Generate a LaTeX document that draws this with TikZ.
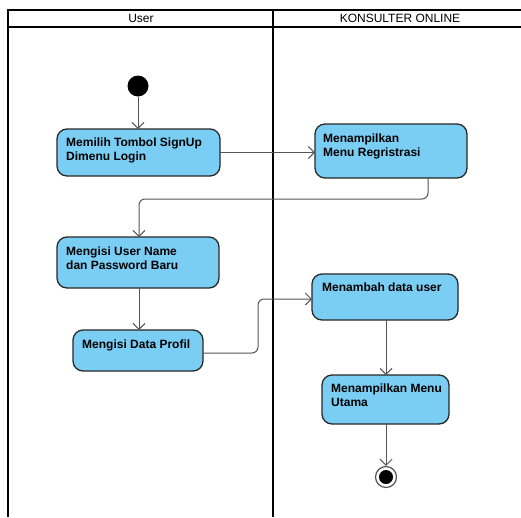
\documentclass[tikz,border=0pt]{standalone}
\usepackage{fontspec}
\setmainfont{Liberation Sans}
\usetikzlibrary{arrows.meta}
\definecolor{actfill}{RGB}{122,206,244}
\definecolor{actline}{RGB}{40,40,40}
\definecolor{flowline}{RGB}{85,85,85}
\tikzset{
  activity/.style={draw=actline, line width=1.3pt, fill=actfill, rounded corners=10pt},
  acttext/.style={anchor=north west, inner sep=0pt, align=left,
    font=\fontsize{12}{14}\selectfont\bfseries},
  flow/.style={draw=flowline, line width=1pt, rounded corners=6pt,
    -{Straight Barb[length=6pt,width=12pt,line width=1pt]}},
  lane/.style={draw=black, line width=2pt},
  lanetitle/.style={font=\fontsize{12}{14}\selectfont, inner sep=0pt}
}
\begin{document}
\begin{tikzpicture}[x=1pt,y=-1pt]
\useasboundingbox (0,0) rectangle (521,517);
\fill[white] (0,0) rectangle (521,517);

% swimlanes
\draw[lane] (8,517) -- (8,10) -- (521,10);
\draw[lane] (8,27) -- (521,27);
\draw[lane] (273,10) -- (273,517);
\node[lanetitle] (laneUser) at (141,18.5) {User};
\node[lanetitle] (laneSys) at (400,18.5) {KONSULTER ONLINE};

% initial and final states
\node[circle, fill=black, minimum size=21pt, inner sep=0pt] (start) at (138,86) {};
\node[circle, draw=flowline, line width=1.2pt, fill=white, minimum size=21pt, inner sep=0pt] (end) at (386,477) {};
\node[circle, fill=black, minimum size=14pt, inner sep=0pt] (endcore) at (386,477) {};

% activities (boxes)
\path[activity] (57,129) rectangle (220,176);
\node[acttext] (t1) at (66,138) {Memilih Tombol SignUp\\Dimenu Login};

\path[activity] (315,124) rectangle (467,178);
\node[acttext] (t2) at (323,134) {Menampilkan\\Menu Regristrasi};

\path[activity] (57,237) rectangle (219,288);
\node[acttext] (t3) at (66,247) {Mengisi User Name\\dan Password Baru};

\path[activity] (73,330) rectangle (203,371);
\node[acttext] (t4) at (82,340) {Mengisi Data Profil};

\path[activity] (312,274) rectangle (458,320);
\node[acttext] (t5) at (322,283) {Menambah data user};

\path[activity] (322,375) rectangle (449,424);
\node[acttext] (t6) at (331,384) {Menampilkan Menu\\Utama};

% named box edges used by the flows
\coordinate (a1e) at (220,152.5);
\coordinate (a1n) at (138,129);
\coordinate (a2w) at (315,152.5);
\coordinate (a2s) at (428,178);
\coordinate (a3n) at (139,237);
\coordinate (a3s) at (139,288);
\coordinate (a4n) at (139,330);
\coordinate (a4e) at (203,353);
\coordinate (a5w) at (312,299);
\coordinate (a5s) at (386,320);
\coordinate (a6n) at (386,375);
\coordinate (a6s) at (386,424);

% control flows
\draw[flow] (start) -- (a1n);
\draw[flow] (a1e) -- (a2w);
\draw[flow] (a2s) |- (283,199) -- (139,199) -- (a3n);
\draw[flow] (a3s) -- (a4n);
\draw[flow] (a4e) -- (258,353) -- (258,299) -- (a5w);
\draw[flow] (a5s) -- (a6n);
\draw[flow] (a6s) -- (end);
\end{tikzpicture}
\end{document}
